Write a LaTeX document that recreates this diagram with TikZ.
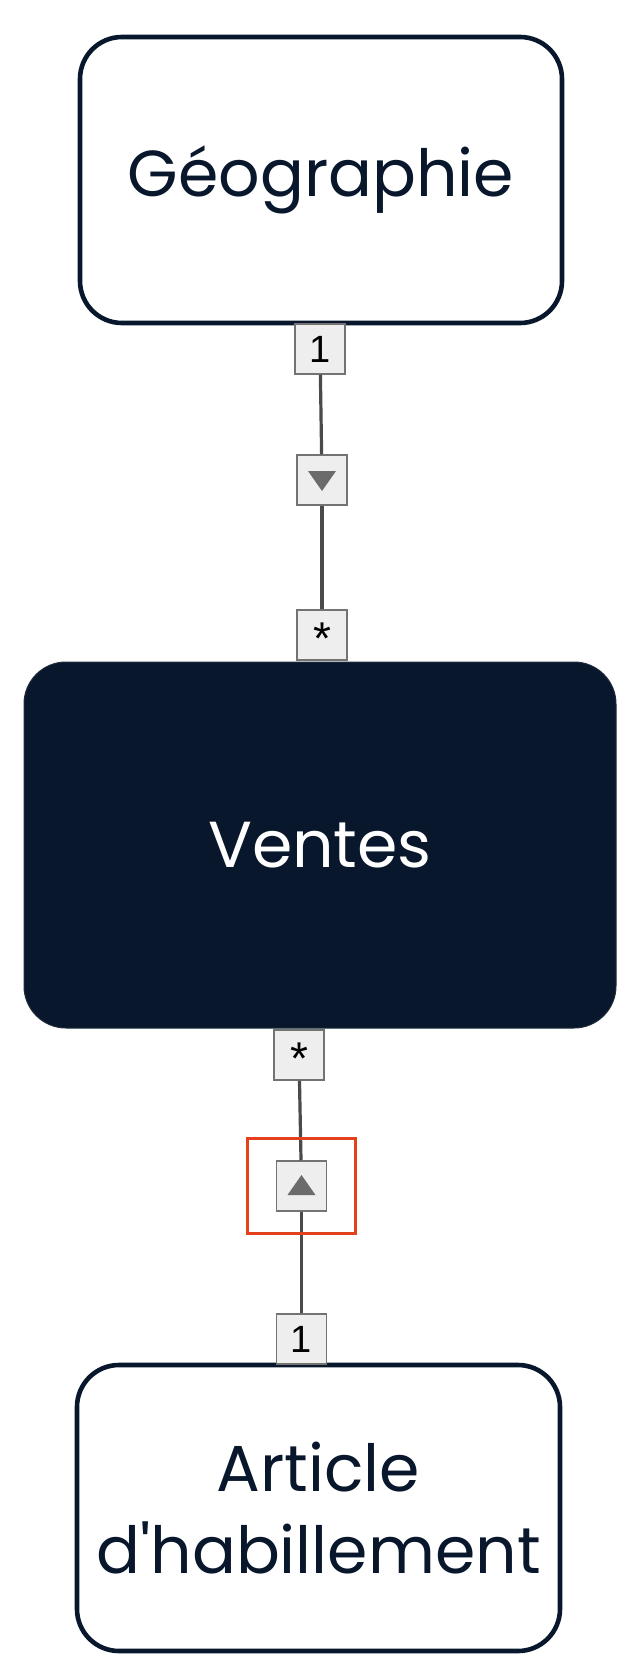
\documentclass[tikz,border=0pt]{standalone}
\usepackage{fontspec}
\setmainfont{Poppins}[Ligatures=TeXOff]
\newfontfamily\cardfont{Liberation Sans}
\usepackage{xcolor}
\usetikzlibrary{calc}

\definecolor{navy}{HTML}{08172B}
\definecolor{linkgray}{HTML}{4A4A4A}
\definecolor{cardgray}{HTML}{EEEEEE}
\definecolor{frame}{HTML}{E2411B}

\tikzset{
  entity/.style={draw=navy, line width=4.6pt, rounded corners=42pt, fill=white,
    text=navy, align=center, inner sep=0pt, font=\fontsize{65}{82}\selectfont},
  card/.style={draw=black!55, fill=cardgray, line width=1.5pt, minimum size=50pt,
    inner sep=0pt, font=\cardfont\fontsize{38}{38}\selectfont},
  link/.style={draw=linkgray, line width=3.2pt},
}

\begin{document}
\begin{tikzpicture}[x=1pt, y=-1pt]
  \fill[white] (0,0) rectangle (638,1680);
  \useasboundingbox (0,0) rectangle (638,1680);
  \def\many{\smash{\raisebox{-.5em}{\fontsize{46}{46}\selectfont *}}}

  % tables
  \node[entity, minimum width=482pt, minimum height=286pt]
    (geo) at (321,180) {G\'eographie};
  \node[entity, fill=navy, draw=navy!80!gray, line width=1pt, text=white,
    minimum width=592pt, minimum height=366pt]
    (ventes) at (320,845) {Ventes};
  \node[entity, minimum width=483pt, minimum height=286pt]
    (article) at (318.5,1508) {Article\\d\textquotesingle habillement};

  % cardinality and direction cards
  \node[card] (geo one) at (320,349) {1};
  \node[card] (geo dir) at (322,480) {};
  \node[card] (ventes many top) at (322,635) {\many};
  \node[card] (ventes many bottom) at (299,1055) {\many};
  \node[card] (article dir) at (301.5,1186) {};
  \node[card] (article one) at (301.5,1339) {1};

  \draw[link] (geo one) -- (geo dir);
  \draw[link] (geo dir) -- (ventes many top);
  \draw[link] (ventes many bottom) -- (article dir);
  \draw[link] (article dir) -- (article one);

  % filter direction
  \fill[black!58]
    ($(geo dir)+(-14,-9)$) -- ($(geo dir)+(14,-9)$) -- ($(geo dir)+(0,11)$) -- cycle;
  \fill[black!58]
    ($(article dir)+(-14,9)$) -- ($(article dir)+(14,9)$) -- ($(article dir)+(0,-11)$) -- cycle;

  \draw[frame, line width=3pt]
    ($(article dir)+(-54,-47.5)$) rectangle ($(article dir)+(54,47.5)$);
\end{tikzpicture}
\end{document}
